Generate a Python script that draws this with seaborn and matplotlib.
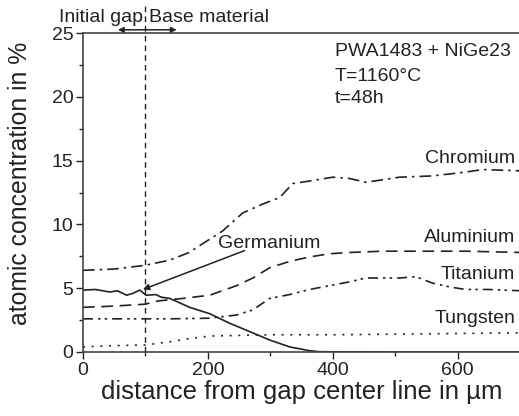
import numpy as np
import pandas as pd
import matplotlib.pyplot as plt
import seaborn as sns
from matplotlib.ticker import MultipleLocator

sns.set_style('ticks')
plt.rcParams['font.family'] = ['Liberation Sans', 'DejaVu Sans']

# values (distance in um, concentration in %)
cr_x = [0, 50, 100, 139, 170, 192, 224, 256, 288, 315, 336, 363, 400, 427, 453, 480, 507, 560, 613, 640, 700]
cr_y = [6.4, 6.5, 6.8, 7.2, 7.8, 8.5, 9.5, 10.9, 11.6, 12.1, 13.2, 13.4, 13.7, 13.6, 13.3, 13.5, 13.7, 13.8, 14.1, 14.3, 14.2]

al_x = [0, 50, 100, 120, 160, 203, 246, 272, 299, 331, 363, 395, 427, 480, 550, 613, 700]
al_y = [3.5, 3.6, 3.75, 4.0, 4.2, 4.45, 5.2, 5.8, 6.6, 7.1, 7.45, 7.7, 7.8, 7.9, 7.9, 7.9, 7.8]

ti_x = [0, 50, 100, 139, 203, 246, 272, 299, 331, 363, 395, 427, 453, 480, 507, 533, 560, 587, 613, 650, 700]
ti_y = [2.6, 2.6, 2.6, 2.6, 2.65, 2.9, 3.3, 4.2, 4.5, 4.9, 5.2, 5.5, 5.8, 5.8, 5.8, 5.9, 5.4, 5.1, 4.9, 4.9, 4.8]

w_x = [0, 50, 100, 139, 170, 203, 250, 300, 400, 500, 600, 700]
w_y = [0.4, 0.5, 0.55, 0.8, 1.05, 1.25, 1.3, 1.35, 1.35, 1.4, 1.45, 1.5]

ge_x = [0, 20, 43, 55, 70, 80, 91, 101, 117, 125, 139, 171, 203, 235, 267, 299, 331, 363, 380, 500, 700]
ge_y = [4.85, 4.9, 4.7, 4.8, 4.45, 4.6, 4.85, 4.45, 4.5, 4.3, 4.2, 3.5, 3.0, 2.25, 1.6, 0.94, 0.4, 0.1, 0.02, 0.0, 0.0]

series = [
    ('Chromium', cr_x, cr_y, (0, (7, 3, 1.5, 3))),
    ('Aluminium', al_x, al_y, (0, (7, 4))),
    ('Titanium', ti_x, ti_y, (0, (6, 3, 1.5, 2.5, 1.5, 3))),
    ('Tungsten', w_x, w_y, (0, (1.2, 4))),
    ('Germanium', ge_x, ge_y, '-'),
]

fig = plt.figure(figsize=(5.19, 4.16), dpi=100)
ax = fig.add_axes([83 / 519, 64 / 416, 437 / 519, 319 / 416])

ink = '#222222'
fs = 14
for name, xs, ys, ls in series:
    df = pd.DataFrame({'x': xs, 'y': ys})
    sns.lineplot(data=df, x='x', y='y', ax=ax, color=ink, lw=1.2,
                 linestyle=ls, estimator=None, sort=False)

ax.axvline(100, ymin=0, ymax=27.3 / 25, color=ink, lw=1.0,
           linestyle=(0, (4, 3)), clip_on=False)

ax.set_xlim(0, 700)
ax.set_ylim(0, 25)
ax.xaxis.set_major_locator(MultipleLocator(200))
ax.xaxis.set_minor_locator(MultipleLocator(100))
ax.yaxis.set_major_locator(MultipleLocator(5))
ax.yaxis.set_minor_locator(MultipleLocator(2.5))
ax.tick_params(which='major', length=5, width=1, colors=ink, labelsize=fs, direction='out', pad=2)
ax.tick_params(which='minor', length=3, width=1, colors=ink, direction='out')
for s in ['left', 'bottom', 'top']:
    ax.spines[s].set_color('#444444')
    ax.spines[s].set_linewidth(1.2)
ax.spines['right'].set_visible(False)

ax.set_xlabel('distance from gap center line in µm', fontsize=18.5, color=ink, labelpad=1)
ax.set_ylabel('atomic concentration in %', fontsize=17.8, color=ink)
ax.yaxis.set_label_coords(-0.117, 0.53)

# labels for the curves
for name, yy in [('Chromium', 15.2), ('Aluminium', 9.0), ('Titanium', 6.1), ('Tungsten', 2.65)]:
    ax.text(692, yy, name, ha='right', va='center', fontsize=fs, color=ink)

ax.text(298, 8.5, 'Germanium', ha='center', va='center', fontsize=fs, color=ink)
ax.annotate('', xy=(96, 4.9), xytext=(259, 7.95),
            arrowprops=dict(arrowstyle='-|>', color=ink, lw=1.1, mutation_scale=9,
                            shrinkA=0, shrinkB=0))

ax.text(403, 23.2, 'PWA1483 + NiGe23', ha='left', va='baseline', fontsize=fs, color=ink)
ax.text(403, 21.25, 'T=1160°C', ha='left', va='baseline', fontsize=fs, color=ink)
ax.text(403, 19.5, 't=48h', ha='left', va='baseline', fontsize=fs, color=ink)

ax.text(96, 26.2, 'Initial gap', ha='right', va='center', fontsize=fs, color=ink, clip_on=False)
ax.text(106, 26.2, 'Base material', ha='left', va='center', fontsize=fs, color=ink, clip_on=False)
ax.annotate('', xy=(56, 25.25), xytext=(150, 25.25), annotation_clip=False,
            arrowprops=dict(arrowstyle='<|-|>', color=ink, lw=1.1, mutation_scale=8,
                            shrinkA=0, shrinkB=0))

fig.savefig('out.png', dpi=100)
